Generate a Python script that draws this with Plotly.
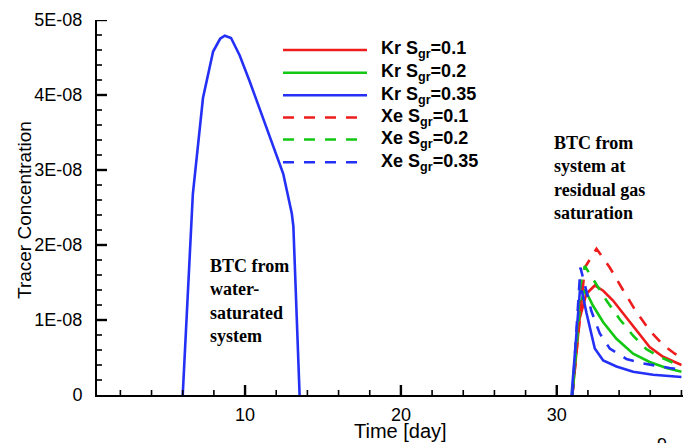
import plotly.graph_objects as go

# ---------------- data ----------------
# BTC from water-saturated system (all series coincide, drawn in blue)
t_water = [6.0, 6.65, 7.3, 7.95, 8.4, 8.7, 9.1, 9.65, 10.3, 11.4, 12.45, 13.0, 13.1, 13.5]
c_water = [0, 2.68e-8, 3.96e-8, 4.58e-8, 4.75e-8, 4.79e-8, 4.76e-8, 4.53e-8, 4.18e-8,
           3.56e-8, 2.95e-8, 2.42e-8, 2.25e-8, 0]

# BTC from system at residual gas saturation
t_kr_01 = [31.0, 31.47, 31.9, 32.44, 32.98, 33.61, 34.25, 35.1, 35.96, 36.82, 38.0]
c_kr_01 = [0, 1.02e-8, 1.35e-8, 1.46e-8, 1.39e-8, 1.26e-8, 1.09e-8, 0.86e-8, 0.64e-8, 0.51e-8, 0.40e-8]

t_kr_02 = [31.0, 31.5, 31.8, 32.33, 32.98, 33.83, 34.9, 35.96, 37.04, 38.0]
c_kr_02 = [0, 1.2e-8, 1.41e-8, 1.19e-8, 0.97e-8, 0.75e-8, 0.55e-8, 0.44e-8, 0.36e-8, 0.31e-8]

t_kr_035 = [30.95, 31.52, 31.9, 32.44, 32.98, 33.83, 34.9, 36.18, 38.0]
c_kr_035 = [0, 1.48e-8, 1.10e-8, 0.62e-8, 0.46e-8, 0.38e-8, 0.31e-8, 0.27e-8, 0.24e-8]

t_xe_01 = [31.0, 31.8, 32.55, 33.4, 34.25, 35.1, 35.96, 36.82, 37.57, 38.0]
c_xe_01 = [0, 1.70e-8, 1.95e-8, 1.70e-8, 1.40e-8, 1.11e-8, 0.86e-8, 0.67e-8, 0.55e-8, 0.51e-8]

t_xe_02 = [31.0, 31.5, 31.8, 32.44, 33.19, 34.04, 34.9, 35.75, 36.6, 37.46, 38.0]
c_xe_02 = [0, 1.45e-8, 1.72e-8, 1.51e-8, 1.26e-8, 1.01e-8, 0.79e-8, 0.61e-8, 0.51e-8, 0.43e-8, 0.39e-8]

t_xe_035 = [31.0, 31.52, 32.22, 32.76, 33.4, 34.47, 35.54, 36.6, 37.25, 38.0]
c_xe_035 = [0, 1.70e-8, 1.12e-8, 0.82e-8, 0.62e-8, 0.48e-8, 0.42e-8, 0.38e-8, 0.36e-8, 0.34e-8]

series_names = ["Kr S<sub>gr</sub>=0.1", "Kr S<sub>gr</sub>=0.2", "Kr S<sub>gr</sub>=0.35",
                "Xe S<sub>gr</sub>=0.1", "Xe S<sub>gr</sub>=0.2", "Xe S<sub>gr</sub>=0.35"]

y_tickvals = [0, 1e-8, 2e-8, 3e-8, 4e-8, 5e-8]
y_ticktext = ["0", "1E-08", "2E-08", "3E-08", "4E-08", "5E-08"]
x_tickvals = [10, 20, 30]
x_ticktext = ["10", "20", "30"]

X_RANGE = [0.5, 38.1]
Y_RANGE = [0, 5e-8]

# minor tick positions (every 2 days, every 2E-09)
x_minor = [v for v in range(2, 40, 2) if v % 10 != 0]
y_minor = [k * 0.2e-8 for k in range(1, 25) if k % 5 != 0]

# ---------------- styles ----------------
RED = "#ee1c1c"
GREEN = "#12c812"
BLUE = "#2430f5"
DASH = "11px,10px"
LW = 2.6

series = [
    (t_kr_01, c_kr_01, RED, "solid"),
    (t_kr_02, c_kr_02, GREEN, "solid"),
    (t_kr_035, c_kr_035, BLUE, "solid"),
    (t_xe_01, c_xe_01, RED, DASH),
    (t_xe_02, c_xe_02, GREEN, DASH),
    (t_xe_035, c_xe_035, BLUE, DASH),
]

W, H = 683, 443
ML, MR, MT, MB = 97, 0, 20, 48
PW, PH = W - ML - MR, H - MT - MB

# axis scale: data units per pixel
DX = (X_RANGE[1] - X_RANGE[0]) / PW
DY = (Y_RANGE[1] - Y_RANGE[0]) / PH

def px(x):
    return (x - ML) / PW

def py(y):
    return (H - MB - y) / PH

fig = go.Figure()
fig.add_trace(go.Scatter(x=t_water, y=c_water, mode="lines",
                         line=dict(color=BLUE, width=LW), showlegend=False))
for (t, c, col, dash), name in zip(series, series_names):
    fig.add_trace(go.Scatter(x=t, y=c, mode="lines", name=name,
                             line=dict(color=col, width=LW, dash=dash), showlegend=False))

# tick marks pointing into the plot (major 10 px, minor 5 px), drawn as line traces
MAJ, MIN = 10, 5

def tick_trace(xs, ys, width):
    return go.Scatter(x=xs, y=ys, mode="lines", line=dict(color="black", width=width),
                      showlegend=False, hoverinfo="skip", cliponaxis=False)

def x_ticks(vals, length):
    xs, ys = [], []
    for v in vals:
        xs += [v, v, None]
        ys += [Y_RANGE[0], Y_RANGE[0] + length * DY, None]
    return xs, ys

def y_ticks(vals, length):
    xs, ys = [], []
    for v in vals:
        xs += [X_RANGE[0], X_RANGE[0] + length * DX, None]
        ys += [v, v, None]
    return xs, ys

fig.add_trace(tick_trace(*x_ticks(x_tickvals, MAJ), 2.4))
fig.add_trace(tick_trace(*x_ticks(x_minor, MIN), 1.6))
fig.add_trace(tick_trace(*y_ticks(y_tickvals[1:], MAJ), 2.4))
fig.add_trace(tick_trace(*y_ticks(y_minor, MIN), 1.6))

FONT_SANS = "Liberation Sans"
FONT_SERIF = "Liberation Serif"

shapes = []
annotations = []

# custom legend (long line samples like the original)
leg_rows = [50, 72.7, 95.3, 117.5, 139.5, 162.3]
for (t, c, col, dash), name, yr in zip(series, series_names, leg_rows):
    shapes.append(dict(type="line", xref="paper", yref="paper",
                       x0=px(283), x1=px(367), y0=py(yr), y1=py(yr),
                       line=dict(color=col, width=LW, dash=dash)))
    annotations.append(dict(xref="paper", yref="paper", x=px(379), y=py(yr),
                            xanchor="left", yanchor="middle", showarrow=False,
                            text="<b>" + name + "</b>",
                            font=dict(family=FONT_SANS, size=18, color="black")))

serif = dict(family=FONT_SERIF, size=18, color="black")
annotations.append(dict(xref="paper", yref="paper", x=px(208), y=py(254),
                        xanchor="left", yanchor="top", showarrow=False, align="left",
                        text="<b>BTC from<br>water-<br>saturated<br>system</b>", font=serif))
annotations.append(dict(xref="paper", yref="paper", x=px(552), y=py(131),
                        xanchor="left", yanchor="top", showarrow=False, align="left",
                        text="<b>BTC from<br>system at<br>residual gas<br>saturation</b>", font=serif))
# axis titles placed as in the original
annotations.append(dict(xref="paper", yref="paper", x=px(401), y=py(431),
                        xanchor="center", yanchor="middle", showarrow=False,
                        text="Time [day]", font=dict(family=FONT_SANS, size=20, color="black")))
annotations.append(dict(xref="paper", yref="paper", x=px(25), y=py(210),
                        xanchor="center", yanchor="middle", showarrow=False, textangle=-90,
                        text="Tracer Concentration", font=dict(family=FONT_SANS, size=19, color="black")))
annotations.append(dict(xref="paper", yref="paper", x=px(655), y=py(433),
                        xanchor="left", yanchor="top", showarrow=False,
                        text="9", font=dict(family=FONT_SANS, size=18, color="black")))

axis_font = dict(family=FONT_SANS, size=18, color="black")

fig.update_layout(
    width=W, height=H,
    margin=dict(l=ML, r=MR, t=MT, b=MB, pad=0),
    paper_bgcolor="white", plot_bgcolor="white",
    shapes=shapes, annotations=annotations,
    xaxis=dict(range=X_RANGE, showgrid=False, zeroline=False,
               showline=True, linecolor="black", linewidth=2,
               tickmode="array", ticks="", tickvals=x_tickvals, ticktext=x_ticktext,
               tickfont=axis_font, ticklabelstandoff=2),
    yaxis=dict(range=Y_RANGE, showgrid=False, zeroline=False,
               showline=True, linecolor="black", linewidth=2,
               tickmode="array", ticks="", tickvals=y_tickvals, ticktext=y_ticktext,
               tickfont=axis_font, ticklabelstandoff=9),
)

fig.write_html("out.html")
